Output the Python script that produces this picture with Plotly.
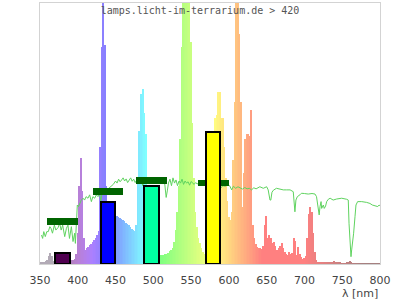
import plotly.graph_objects as go

# ---------------- data ----------------
# lamp spectrum, sampled every 2 nm starting at 350 nm (relative intensity)
spec_start = 350
spec_step = 2
spec_vals = [
    0.0, 0.004, 0.006, 0.007, 0.01, 0.015, 0.03, 0.043, 0.032, 0.012,      # 350-368
    0.008, 0.008, 0.009, 0.01, 0.01, 0.011, 0.012, 0.012, 0.013, 0.013,    # 370-388
    0.014, 0.015, 0.016, 0.02, 0.04, 0.12, 0.3, 0.405, 0.28, 0.1,          # 390-408
    0.055, 0.06, 0.065, 0.072, 0.078, 0.085, 0.092, 0.1, 0.11, 0.125,      # 410-428
    0.45, 0.83, 1.3, 0.84, 0.3, 0.22, 0.2, 0.195, 0.19, 0.19,              # 430-448
    0.188, 0.183, 0.18, 0.176, 0.172, 0.168, 0.163, 0.158, 0.154, 0.148,   # 450-468
    0.142, 0.136, 0.13, 0.125, 0.15, 0.32, 0.51, 0.65, 0.67, 0.58,         # 470-488
    0.5, 0.3, 0.15, 0.08, 0.06, 0.05, 0.045, 0.04, 0.038, 0.035,           # 490-508
    0.034, 0.034, 0.035, 0.037, 0.04, 0.043, 0.048, 0.053, 0.06, 0.085,    # 510-528
    0.13, 0.2, 0.3, 0.48, 0.83, 1.3, 1.3, 1.3, 1.3, 1.3,                   # 530-548
    0.85, 0.54, 0.33, 0.2, 0.14, 0.1, 0.08, 0.06, 0.045, 0.04,             # 550-568
    0.05, 0.08, 0.15, 0.3, 0.45, 0.5, 0.56, 0.57, 0.66, 0.66,              # 570-588
    0.56, 0.56, 0.45, 0.33, 0.24, 0.18, 0.17, 0.2, 0.4, 0.62,              # 590-608
    1.3, 1.3, 0.88, 0.62, 0.22, 0.35, 0.48, 0.5, 0.5, 0.49,                # 610-628
    0.59, 0.15, 0.1, 0.075, 0.066, 0.062, 0.06, 0.058, 0.07, 0.15,         # 630-648
    0.184, 0.1, 0.11, 0.1, 0.08, 0.085, 0.07, 0.055, 0.06, 0.07,           # 650-668
    0.08, 0.06, 0.045, 0.04, 0.035, 0.045, 0.038, 0.042, 0.098, 0.09,      # 670-688
    0.035, 0.066, 0.04, 0.025, 0.02, 0.022, 0.03, 0.1, 0.19, 0.22,         # 690-708
    0.2, 0.12, 0.045, 0.015, 0.008, 0.006, 0.006, 0.005, 0.006, 0.005,     # 710-728
    0.006, 0.005, 0.005, 0.006, 0.008, 0.01, 0.008, 0.005, 0.004, 0.004,   # 730-748
    0.003, 0.003, 0.003, 0.004, 0.006, 0.012, 0.004, 0.003, 0.002, 0.003,  # 750-768
    0.002, 0.002, 0.002, 0.002, 0.002, 0.001, 0.001, 0.001, 0.001, 0.001,  # 770-788
    0.001, 0.001, 0.001, 0.001, 0.001, 0.001,                              # 790-800
]
spec_wl = [spec_start + spec_step * i for i in range(len(spec_vals))]

# reference daylight curve
sun_wl = [352, 353.5, 355, 357, 359, 361, 363, 364.5, 366.5, 369, 371, 374, 376, 378, 380,
          382.7, 385, 387, 389, 391.5, 393.7, 395.9, 396.8, 398, 399.4, 401, 402.5, 404.7,
          407, 409, 411, 413.5, 415.7, 418, 420, 422.4, 424.6, 426.8, 429, 430.5, 432, 435,
          438, 441, 444, 447, 450, 452, 454, 456, 458, 460, 462, 464, 466, 468, 470, 472, 474,
          476, 478, 481, 484, 486, 488, 491, 494, 497, 500, 503, 506, 509, 512, 515, 517,
          518.5, 520, 522, 524, 526, 528, 530, 532, 534, 536, 538, 540, 542, 544, 546, 548,
          550, 552, 554, 556, 558, 560, 565, 570, 575, 580, 585, 589, 592, 595, 598, 601,
          603.7, 606, 609, 612, 615, 618, 621, 624, 627, 630, 633, 636, 641, 645.5, 650, 652,
          654.4, 655.5, 657, 659, 663, 667.6, 672, 676.5, 681, 685.2, 687.4, 688.7, 690.6,
          694, 696, 700, 705, 710, 714, 716, 718.4, 719.5, 720.6, 722, 722.8, 725, 726.2, 728,
          729.4, 731.6, 734, 738, 742.6, 749.3, 755.9, 758, 759, 760.3, 761.6, 762.5, 763.8,
          765.1, 766.9, 768.2, 770.4, 775.8, 782.3, 786.7, 789.8, 793.4, 797, 798.8, 800]
sun_val = [0.111, 0.098, 0.124, 0.105, 0.124, 0.124, 0.143, 0.137, 0.118, 0.149, 0.13, 0.14,
           0.156, 0.13, 0.149, 0.105, 0.137, 0.149, 0.098, 0.143, 0.086, 0.118, 0.079, 0.13,
           0.226, 0.22, 0.233, 0.245, 0.252, 0.245, 0.258, 0.252, 0.265, 0.239, 0.258, 0.252,
           0.265, 0.258, 0.271, 0.24, 0.27, 0.278, 0.285, 0.29, 0.298, 0.305, 0.318, 0.31,
           0.325, 0.315, 0.322, 0.33, 0.318, 0.326, 0.312, 0.322, 0.33, 0.317, 0.325, 0.312,
           0.322, 0.318, 0.326, 0.3, 0.322, 0.316, 0.325, 0.318, 0.322, 0.31, 0.325, 0.315,
           0.322, 0.31, 0.255, 0.28, 0.31, 0.325, 0.3, 0.33, 0.31, 0.322, 0.3, 0.318, 0.31,
           0.325, 0.305, 0.318, 0.31, 0.315, 0.302, 0.316, 0.31, 0.305, 0.312, 0.307, 0.31,
           0.305, 0.308, 0.3, 0.305, 0.3, 0.29, 0.3, 0.298, 0.302, 0.3, 0.284, 0.298, 0.29,
           0.296, 0.292, 0.287, 0.293, 0.288, 0.29, 0.284, 0.292, 0.288, 0.296, 0.29, 0.296,
           0.284, 0.245, 0.245, 0.275, 0.283, 0.29, 0.286, 0.284, 0.284, 0.284, 0.277, 0.2,
           0.245, 0.258, 0.265, 0.271, 0.27, 0.268, 0.27, 0.268, 0.258, 0.22, 0.188, 0.22,
           0.239, 0.213, 0.226, 0.213, 0.222, 0.239, 0.248, 0.252, 0.245, 0.249, 0.252, 0.248,
           0.245, 0.156, 0.092, 0.028, 0.054, 0.105, 0.118, 0.181, 0.226, 0.239, 0.239, 0.236,
           0.232, 0.226, 0.223, 0.22, 0.226, 0.223]

# colour bands (centre nm, relative share) and daylight reference levels
band_center = [380, 440, 497.5, 579]
band_value = [0.043, 0.239, 0.299, 0.505]
band_colors = ["#500050", "#0000ff", "#00ffa0", "#ffff00"]
ref_center = [380, 440, 497.5, 580]
ref_value = [0.163, 0.278, 0.32, 0.309]

xticks = [350, 400, 450, 500, 550, 600, 650, 700, 750, 800]
title_text = "lamps.licht-im-terrarium.de > 420"
xlabel = "λ [nm]"


# ---------------- styling helpers ----------------
def wl_color(w):
    if w < 380:
        return "rgb(178,170,182)"
    if w < 440:
        r, g, b = (440 - w) / 60, 0.0, 1.0
    elif w < 490:
        r, g, b = 0.0, (w - 440) / 50, 1.0
    elif w < 510:
        r, g, b = 0.0, 1.0, (510 - w) / 20
    elif w < 580:
        r, g, b = (w - 510) / 70, 1.0, 0.0
    elif w < 645:
        r, g, b = 1.0, (645 - w) / 65, 0.0
    else:
        r, g, b = 1.0, 0.0, 0.0
    if w < 420:
        f = 0.3 + 0.7 * (w - 380) / 40
    elif w > 700:
        f = max(0.3, 0.3 + 0.7 * (780 - w) / 80)
    else:
        f = 1.0
    return "rgb(%d,%d,%d)" % tuple(round(127.5 + 127.5 * c * f) for c in (r, g, b))


fig = go.Figure()

fig.add_trace(go.Bar(
    x=spec_wl, y=spec_vals, width=spec_step,
    marker=dict(color=[wl_color(w) for w in spec_wl], line=dict(width=0)),
    hoverinfo="skip", showlegend=False,
))

fig.add_trace(go.Scatter(
    x=sun_wl, y=sun_val, mode="lines",
    line=dict(color="#5fd35f", width=1),
    hoverinfo="skip", showlegend=False,
))

# daylight reference markers (thick dark green bars) on overlay axis
ref_thick = 0.024
fig.add_trace(go.Bar(
    x=ref_center, y=[ref_thick] * len(ref_center),
    base=[v - ref_thick / 2 for v in ref_value], width=41,
    marker=dict(color="#006400", line=dict(width=0)),
    yaxis="y2", showlegend=False, hoverinfo="skip",
))

fig.add_trace(go.Bar(
    x=band_center, y=band_value, width=19,
    marker=dict(color=band_colors, line=dict(color="black", width=2)),
    yaxis="y2", showlegend=False, hoverinfo="skip",
))

axis_font = dict(family="DejaVu Sans", size=11, color="#444")

fig.update_layout(
    width=400, height=300,
    margin=dict(l=40, r=20, t=3, b=36),
    paper_bgcolor="white", plot_bgcolor="white",
    barmode="overlay", bargap=0,
    xaxis=dict(range=[350, 800], tickvals=xticks, showgrid=False, zeroline=False,
               showline=True, mirror=True, linecolor="#d3d3d3", linewidth=1,
               ticks="outside", ticklen=6, tickcolor="rgba(0,0,0,0)",
               tickfont=axis_font),
    yaxis=dict(range=[0, 1], showticklabels=False, showgrid=False, zeroline=False,
               showline=True, mirror=True, linecolor="#d3d3d3", linewidth=1, ticks=""),
    yaxis2=dict(range=[0, 1], overlaying="y", visible=False),
    title=dict(text=title_text, x=0.5, xanchor="center", y=0.965, yanchor="middle",
               font=dict(family="DejaVu Sans Mono", size=10, color="#555")),
    annotations=[dict(text=xlabel, xref="paper", yref="paper", x=1, y=-0.114,
                      xanchor="right", yanchor="middle", showarrow=False,
                      font=axis_font)],
)

fig.write_html("out.html")
